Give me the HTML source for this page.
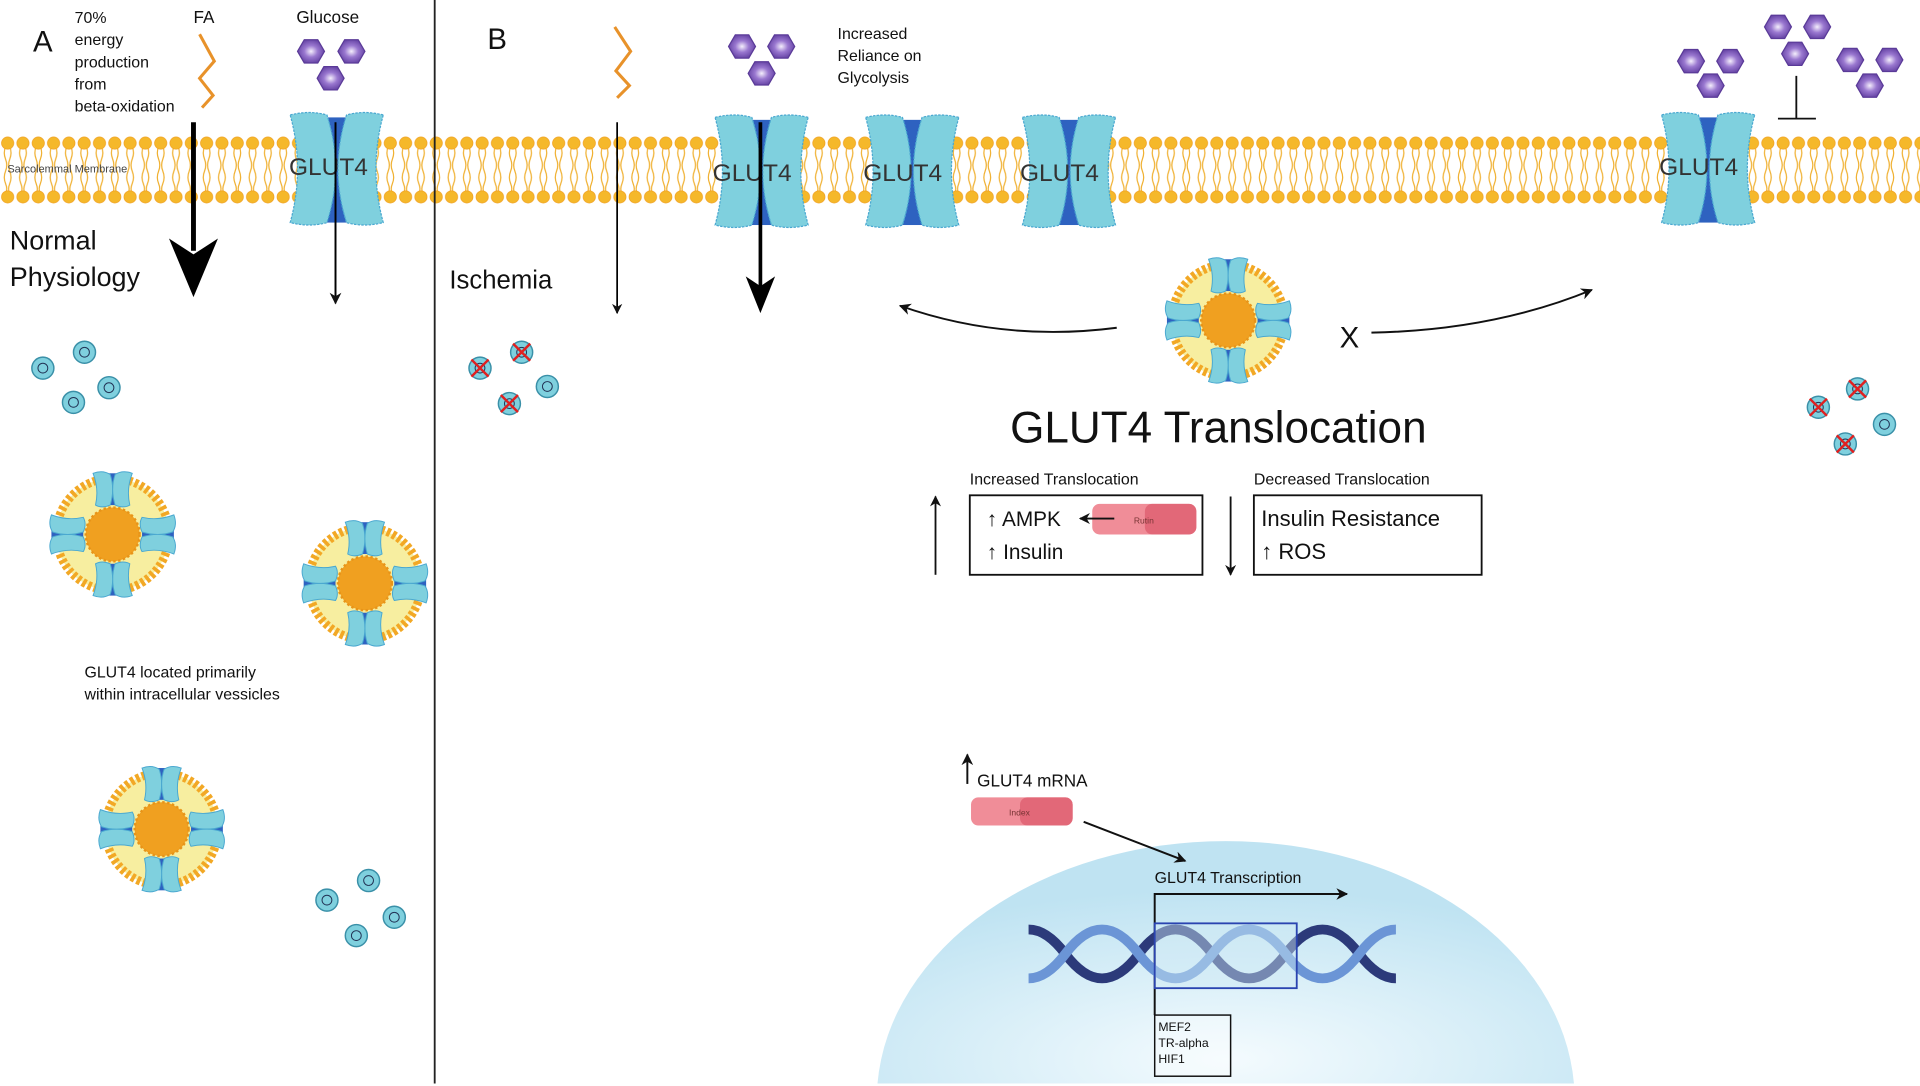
<!DOCTYPE html>
<html><head><meta charset="utf-8"><style>
html,body{margin:0;padding:0;background:#fff;width:1920px;height:1086px;overflow:hidden;}
svg{display:block;overflow:hidden;}
text{font-family:"Liberation Sans",sans-serif;fill:#111;}
</style></head><body>
<svg width="1920" height="1086" viewBox="0 0 1568 888" preserveAspectRatio="none" xmlns="http://www.w3.org/2000/svg">
<defs>
<pattern id="mem" x="0" y="108" width="12.5" height="62" patternUnits="userSpaceOnUse">
<path d="M4.5,12 q-2,5 0,10 t0,10 t0,10 t0,8 M8,12 q2,5 0,10 t0,10 t0,10 t0,8" stroke="#f0b030" stroke-width="1" fill="none"/>
<circle cx="6.25" cy="9" r="5" fill="#f5b82a" stroke="#f0a020" stroke-width="0.6"/>
<circle cx="6.25" cy="53" r="5" fill="#f5b82a" stroke="#f0a020" stroke-width="0.6"/>
</pattern>
<radialGradient id="hexg" cx="0.5" cy="0.5" r="0.5"><stop offset="0" stop-color="#f4eefc"/><stop offset="0.5" stop-color="#9a78d0"/><stop offset="1" stop-color="#6a48a8"/></radialGradient>
<radialGradient id="nuc" cx="0.5" cy="0.9" r="0.7"><stop offset="0" stop-color="#f4fbfe"/><stop offset="1" stop-color="#bfe3f2"/></radialGradient>
<g id="hex"><polygon points="-11,0 -5.5,-9.5 5.5,-9.5 11,0 5.5,9.5 -5.5,9.5" fill="url(#hexg)" stroke="#5a3a98" stroke-width="1"/></g>
<g id="glut">
<rect x="-16" y="-42" width="32" height="86" fill="#2e62c0"/>
<path d="M-38,-44 Q-22,-48 -8,-44 Q6,0 -8,44 Q-22,48 -38,44 Q-26,0 -38,-44Z" fill="#7fd0de" stroke="#4aa8d0" stroke-width="1" stroke-dasharray="2 1"/>
<path d="M38,-44 Q22,-48 8,-44 Q-6,0 8,44 Q22,48 38,44 Q26,0 38,-44Z" fill="#7fd0de" stroke="#4aa8d0" stroke-width="1" stroke-dasharray="2 1"/>
</g>
<g id="vt">
<rect x="-9" y="-50" width="18" height="26" fill="#2e62c0"/>
<path d="M-16,-50 Q-8,-53 -2,-49 Q2,-37 -2,-24 Q-9,-21 -14,-24 Q-11,-37 -16,-50Z" fill="#7fd0de" stroke="#4aa8d0" stroke-width="0.8"/>
<path d="M16,-50 Q8,-53 2,-49 Q-2,-37 2,-24 Q9,-21 14,-24 Q11,-37 16,-50Z" fill="#7fd0de" stroke="#4aa8d0" stroke-width="0.8"/>
</g>
<g id="ves">
<circle r="46" fill="#f7eea0" stroke="#f2a825" stroke-width="7" stroke-dasharray="3 2"/>
<circle r="22" fill="#f0a020" stroke="#e89418" stroke-width="2" stroke-dasharray="2 2"/>
<use href="#vt"/><use href="#vt" transform="rotate(90)"/><use href="#vt" transform="rotate(180)"/><use href="#vt" transform="rotate(270)"/>
</g>
<g id="o2"><circle r="9" fill="#7fd0de" stroke="#3a90a8" stroke-width="1.2"/><circle r="4" fill="none" stroke="#235" stroke-width="0.8"/></g>
<g id="xo2"><use href="#o2"/><path d="M-7,-7 L7,7 M7,-7 L-7,7" stroke="#e02020" stroke-width="2"/></g>
<marker id="ah" viewBox="0 0 10 10" refX="9" refY="5" markerWidth="6" markerHeight="6" orient="auto-start-reverse"><path d="M0,0 L10,5 L0,10 L3,5Z" fill="#111"/></marker>
</defs>

<path d="M716.6,886 A285,212 0 0 1 1285.4,886 Z" fill="url(#nuc)"/>

<rect x="0" y="108" width="1568" height="62" fill="url(#mem)"/>

<line x1="355" y1="0" x2="355" y2="886" stroke="#222" stroke-width="1.5"/>

<use href="#glut" transform="translate(275,138)"/>
<use href="#glut" transform="translate(622,140)"/>
<use href="#glut" transform="translate(745,140)"/>
<use href="#glut" transform="translate(873,140)"/>
<use href="#glut" transform="translate(1395,138)"/>
<g font-size="20"><text x="236" y="143" style="fill:#333">GLUT4</text><text x="582" y="148" style="fill:#333">GLUT4</text><text x="705" y="148" style="fill:#333">GLUT4</text><text x="833" y="148" style="fill:#333">GLUT4</text><text x="1355" y="143" style="fill:#333">GLUT4</text></g>

<text x="6" y="141" font-size="9" style="fill:#444">Sarcolemmal Membrane</text>

<text x="27" y="42" font-size="24">A</text>
<g font-size="13"><text x="61" y="19">70%</text><text x="61" y="37">energy</text><text x="61" y="55">production</text><text x="61" y="73">from</text><text x="61" y="91">beta-oxidation</text></g>
<text x="158" y="19" font-size="14">FA</text>
<text x="242" y="19" font-size="14">Glucose</text>
<text x="8" y="204" font-size="22">Normal</text>
<text x="8" y="234" font-size="22">Physiology</text>
<text x="69" y="554" font-size="13">GLUT4 located primarily</text>
<text x="69" y="572" font-size="13">within intracellular vessicles</text>

<path d="M163,28 L175,50 L163,64 L174,78 L165,88" fill="none" stroke="#e8922a" stroke-width="2.5"/>
<path d="M502,22 L515,42 L503,58 L514,70 L504,80" fill="none" stroke="#e8922a" stroke-width="2.5"/>

<use href="#hex" transform="translate(254,42)"/><use href="#hex" transform="translate(287,42)"/><use href="#hex" transform="translate(270,64)"/>
<use href="#hex" transform="translate(606,38)"/><use href="#hex" transform="translate(638,38)"/><use href="#hex" transform="translate(622,60)"/>
<use href="#hex" transform="translate(1381,50)"/><use href="#hex" transform="translate(1413,50)"/><use href="#hex" transform="translate(1397,70)"/>
<use href="#hex" transform="translate(1452,22)"/><use href="#hex" transform="translate(1484,22)"/><use href="#hex" transform="translate(1466,44)"/>
<use href="#hex" transform="translate(1511,49)"/><use href="#hex" transform="translate(1543,49)"/><use href="#hex" transform="translate(1527,70)"/>
<path d="M1467,62 V97 M1452,97 H1483" stroke="#111" stroke-width="1.5"/>

<line x1="158" y1="100" x2="158" y2="205" stroke="#000" stroke-width="4"/>
<path d="M138,195 L158,243 L178,195 L158,208Z" fill="#000"/>
<line x1="274" y1="100" x2="274" y2="248" stroke="#000" stroke-width="1.6" marker-end="url(#ah)"/>
<line x1="504" y1="100" x2="504" y2="256" stroke="#000" stroke-width="1.4" marker-end="url(#ah)"/>
<line x1="621" y1="100" x2="621" y2="240" stroke="#000" stroke-width="3"/>
<path d="M609,226 L621,256 L633,226 L621,234Z" fill="#000"/>

<text x="398" y="40" font-size="24">B</text>
<g font-size="13"><text x="684" y="32">Increased</text><text x="684" y="50">Reliance on</text><text x="684" y="68">Glycolysis</text></g>
<text x="367" y="236" font-size="21">Ischemia</text>

<use href="#o2" transform="translate(35,301)"/><use href="#o2" transform="translate(69,288)"/><use href="#o2" transform="translate(60,329)"/><use href="#o2" transform="translate(89,317)"/>
<use href="#o2" transform="translate(301,720)"/><use href="#o2" transform="translate(267,736)"/><use href="#o2" transform="translate(322,750)"/><use href="#o2" transform="translate(291,765)"/>
<use href="#xo2" transform="translate(392,301)"/><use href="#xo2" transform="translate(426,288)"/><use href="#xo2" transform="translate(416,330)"/><use href="#o2" transform="translate(447,316)"/>
<use href="#xo2" transform="translate(1485,333)"/><use href="#xo2" transform="translate(1517,318)"/><use href="#xo2" transform="translate(1507,363)"/><use href="#o2" transform="translate(1539,347)"/>

<use href="#ves" transform="translate(92,437)"/>
<use href="#ves" transform="translate(298,477)"/>
<use href="#ves" transform="translate(132,678)"/>
<use href="#ves" transform="translate(1003,262)"/>

<path d="M912,268 Q820,280 735,250" fill="none" stroke="#111" stroke-width="1.6" marker-end="url(#ah)"/>
<path d="M1120,272 Q1220,270 1300,237" fill="none" stroke="#111" stroke-width="1.6" marker-end="url(#ah)"/>
<text x="1094" y="284" font-size="24">X</text>

<text x="995" y="362" font-size="36" text-anchor="middle">GLUT4 Translocation</text>

<text x="792" y="396" font-size="13">Increased Translocation</text>
<rect x="792" y="405" width="190" height="65" fill="none" stroke="#111" stroke-width="1.5"/>
<rect x="892" y="412" width="85" height="25" rx="6" fill="#f08d98"/>
<rect x="935" y="412" width="42" height="25" rx="6" fill="#e26878"/>
<text x="926" y="428" font-size="7" style="fill:#733">Rutin</text>
<text x="806" y="430" font-size="17">↑ AMPK</text>
<line x1="910" y1="424" x2="882" y2="424" stroke="#111" stroke-width="1.5" marker-end="url(#ah)"/>
<text x="806" y="457" font-size="17">↑ Insulin</text>
<line x1="764" y1="470" x2="764" y2="406" stroke="#111" stroke-width="1.5" marker-end="url(#ah)"/>
<line x1="1005" y1="406" x2="1005" y2="470" stroke="#111" stroke-width="1.5" marker-end="url(#ah)"/>

<text x="1024" y="396" font-size="13">Decreased Translocation</text>
<rect x="1024" y="405" width="186" height="65" fill="none" stroke="#111" stroke-width="1.5"/>
<text x="1030" y="430" font-size="18">Insulin Resistance</text>
<text x="1030" y="457" font-size="18">↑ ROS</text>

<line x1="790" y1="641" x2="790" y2="617" stroke="#111" stroke-width="1.6" marker-end="url(#ah)"/>
<text x="798" y="643" font-size="14">GLUT4 mRNA</text>
<rect x="793" y="652" width="83" height="23" rx="6" fill="#f08d98"/>
<rect x="833" y="652" width="43" height="23" rx="6" fill="#e26878"/>
<text x="824" y="667" font-size="7" style="fill:#733">Index</text>
<line x1="885" y1="672" x2="968" y2="704" stroke="#111" stroke-width="1.6" marker-end="url(#ah)"/>

<text x="943" y="722" font-size="13">GLUT4 Transcription</text>
<path d="M943,830 V731 H1100" fill="none" stroke="#111" stroke-width="1.6" marker-end="url(#ah)"/>

<path d="M840,760 q15,0 30,20 t30,20 t30,-20 t30,-20 t30,20 t30,20 t30,-20 t30,-20 t30,20 t30,20" fill="none" stroke="#2c3a7a" stroke-width="8"/>
<path d="M840,800 q15,0 30,-20 t30,-20 t30,20 t30,20 t30,-20 t30,-20 t30,20 t30,20 t30,-20 t30,-20" fill="none" stroke="#6b95d6" stroke-width="8"/>
<rect x="943" y="755" width="116" height="53" fill="#cfe8f5" fill-opacity="0.45" stroke="#2a44b0" stroke-width="1.5"/>
<rect x="943" y="830" width="62" height="50" fill="#fff" fill-opacity="0.3" stroke="#111" stroke-width="1.2"/>
<g font-size="10"><text x="946" y="843">MEF2</text><text x="946" y="856">TR-alpha</text><text x="946" y="869">HIF1</text></g>
</svg>
</body></html>
